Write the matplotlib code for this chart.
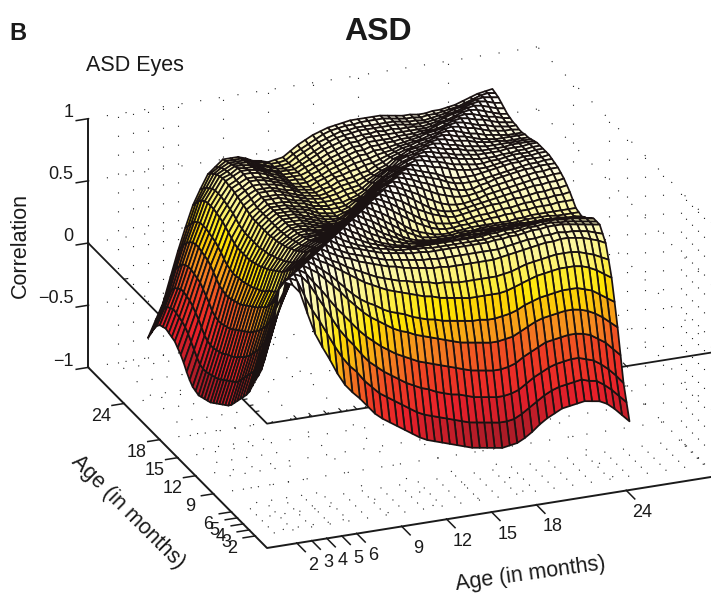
import numpy as np
import matplotlib
matplotlib.use("Agg")
import matplotlib.pyplot as plt
from matplotlib.colors import LinearSegmentedColormap
from mpl_toolkits.mplot3d import proj3d

plt.rcParams['font.family'] = ['Liberation Sans', 'DejaVu Sans']

# ages on the surface grid, half month steps like the mesh in the picture
ages = [2 + 0.5 * i for i in range(47)]
tick_ages = [2, 3, 4, 5, 6, 9, 12, 15, 18, 24]
z_ticks = [-1, -0.5, 0, 0.5, 1]
z_labels = ["\u22121", "\u22120.5", "0", "0.5", "1"]

# upper triangle of the correlation matrix in hundredths, one row per mesh line,
# typed in by eye from the edges and mesh of the picture (rough between the edges)
rows = [
    [100, 97, 90, 72, 55, 43, 32, 20, 10, 3, -3, -10, -17, -22, -26, -30, -34, -38, -42, -45, -47, -49, -51, -53, -55, -57, -58, -59, -60, -61, -60, -59, -56, -52, -47, -43, -40, -37, -36, -35, -34, -35, -36, -39, -44, -50, -56],
    [100, 97, 84, 72, 62, 51, 40, 30, 22, 16, 8, 2, -4, -8, -12, -16, -20, -24, -27, -29, -31, -33, -35, -37, -39, -40, -41, -42, -43, -43, -42, -39, -35, -31, -27, -24, -22, -21, -20, -19, -21, -22, -26, -31, -37, -43],
    [100, 97, 90, 80, 70, 60, 50, 42, 35, 27, 20, 15, 10, 6, 2, -2, -5, -8, -10, -13, -15, -17, -18, -20, -22, -23, -24, -25, -25, -24, -22, -18, -14, -11, -8, -6, -5, -4, -4, -6, -8, -12, -17, -23, -30],
    [100, 96, 88, 81, 73, 65, 58, 51, 44, 38, 33, 28, 24, 20, 17, 14, 11, 9, 7, 5, 3, 1, -1, -3, -4, -5, -6, -6, -5, -3, 1, 4, 7, 10, 11, 12, 13, 13, 12, 10, 6, 2, -4, -10],
    [100, 96, 92, 86, 80, 74, 67, 61, 55, 50, 46, 42, 38, 35, 33, 30, 28, 26, 24, 22, 20, 18, 17, 16, 15, 14, 14, 15, 16, 19, 22, 25, 27, 28, 29, 30, 30, 29, 27, 24, 20, 15, 10],
    [100, 96, 91, 86, 80, 74, 68, 63, 59, 56, 52, 49, 47, 45, 42, 40, 38, 37, 35, 34, 33, 32, 31, 31, 30, 30, 31, 32, 34, 37, 39, 41, 42, 43, 44, 44, 44, 42, 40, 36, 32, 28],
    [100, 96, 93, 89, 85, 81, 77, 73, 70, 67, 64, 62, 60, 58, 56, 54, 53, 51, 50, 49, 48, 47, 47, 47, 47, 47, 48, 50, 52, 54, 56, 57, 58, 59, 59, 59, 58, 56, 53, 49, 45],
    [100, 96, 92, 89, 85, 82, 79, 76, 73, 71, 69, 67, 66, 64, 63, 62, 60, 60, 59, 58, 58, 58, 58, 58, 58, 59, 60, 62, 64, 65, 66, 67, 68, 68, 68, 67, 65, 63, 60, 57],
    [100, 96, 93, 90, 88, 85, 83, 81, 79, 77, 76, 74, 73, 72, 71, 70, 70, 69, 69, 69, 69, 69, 69, 69, 70, 71, 72, 73, 74, 75, 76, 76, 77, 77, 76, 75, 73, 71, 68],
    [100, 96, 93, 90, 88, 86, 84, 82, 80, 79, 78, 77, 76, 75, 75, 74, 74, 74, 74, 74, 74, 74, 74, 74, 75, 76, 77, 78, 78, 79, 79, 80, 79, 79, 78, 77, 75, 73],
    [100, 96, 93, 91, 89, 87, 85, 83, 82, 81, 80, 79, 79, 78, 78, 78, 78, 78, 78, 78, 78, 78, 79, 79, 80, 80, 81, 82, 82, 83, 83, 83, 82, 81, 80, 79, 78],
    [100, 96, 93, 90, 88, 86, 84, 83, 81, 80, 80, 79, 79, 78, 78, 78, 78, 78, 78, 78, 78, 79, 79, 80, 80, 81, 82, 82, 83, 83, 82, 82, 81, 80, 79, 78],
    [100, 96, 93, 90, 87, 85, 83, 81, 80, 79, 78, 78, 78, 78, 78, 78, 78, 78, 78, 78, 79, 79, 80, 80, 80, 81, 81, 82, 82, 82, 81, 81, 80, 79, 78],
    [100, 96, 93, 89, 86, 83, 81, 79, 78, 76, 76, 76, 76, 76, 76, 76, 76, 76, 77, 77, 78, 78, 78, 79, 79, 79, 80, 80, 79, 79, 78, 78, 77, 76],
    [100, 96, 93, 89, 86, 83, 80, 78, 76, 75, 74, 74, 74, 74, 75, 75, 75, 75, 75, 76, 76, 76, 77, 77, 77, 77, 77, 77, 76, 76, 75, 74, 73],
    [100, 96, 93, 89, 85, 82, 79, 76, 74, 73, 72, 72, 72, 72, 73, 73, 74, 74, 74, 74, 75, 75, 75, 75, 75, 75, 75, 74, 74, 73, 73, 72],
    [100, 96, 93, 89, 85, 81, 77, 74, 72, 71, 70, 70, 70, 70, 71, 71, 72, 72, 72, 72, 72, 72, 72, 72, 72, 72, 72, 72, 71, 71, 70],
    [100, 96, 93, 89, 85, 81, 77, 74, 71, 70, 69, 69, 69, 70, 70, 70, 71, 71, 71, 71, 71, 71, 72, 72, 72, 72, 71, 71, 71, 71],
    [100, 96, 93, 89, 85, 80, 76, 73, 71, 69, 68, 68, 69, 69, 70, 70, 70, 70, 70, 70, 71, 71, 72, 72, 72, 72, 72, 72, 72],
    [100, 97, 94, 90, 86, 82, 78, 75, 72, 70, 69, 69, 70, 70, 71, 71, 72, 72, 73, 73, 74, 74, 75, 75, 75, 76, 76, 76],
    [100, 97, 94, 90, 86, 82, 78, 75, 72, 71, 70, 70, 71, 72, 73, 73, 74, 75, 75, 76, 77, 77, 78, 78, 79, 79, 80],
    [100, 97, 94, 91, 87, 83, 80, 77, 75, 73, 72, 73, 74, 75, 76, 77, 77, 78, 79, 79, 80, 81, 81, 82, 82, 83],
    [100, 97, 95, 92, 88, 84, 80, 77, 75, 74, 74, 75, 76, 77, 78, 79, 80, 81, 82, 83, 84, 84, 85, 85, 86],
    [100, 98, 95, 92, 89, 85, 82, 79, 77, 76, 76, 77, 78, 80, 81, 82, 83, 84, 85, 86, 87, 87, 88, 88],
    [100, 98, 95, 93, 90, 87, 84, 82, 80, 79, 79, 80, 81, 83, 84, 85, 86, 87, 88, 89, 89, 90, 90],
    [100, 98, 96, 93, 91, 88, 86, 84, 82, 81, 81, 83, 84, 86, 87, 88, 89, 90, 90, 91, 91, 91],
    [100, 98, 96, 94, 92, 90, 87, 85, 84, 84, 84, 85, 86, 87, 88, 89, 90, 91, 91, 92, 92],
    [100, 98, 96, 94, 92, 89, 87, 86, 86, 86, 87, 88, 89, 90, 91, 91, 92, 92, 92, 93],
    [100, 98, 97, 95, 94, 92, 90, 89, 88, 88, 88, 89, 90, 91, 91, 92, 92, 93, 93],
    [100, 99, 97, 96, 94, 92, 91, 90, 89, 89, 90, 90, 91, 92, 92, 92, 93, 93],
    [100, 99, 97, 96, 95, 93, 92, 91, 90, 90, 90, 91, 91, 92, 92, 93, 93],
    [100, 99, 97, 96, 94, 93, 92, 91, 91, 91, 91, 92, 92, 92, 93, 93],
    [100, 99, 97, 96, 95, 93, 92, 91, 91, 91, 91, 92, 92, 92, 92],
    [100, 99, 97, 96, 94, 93, 92, 91, 91, 91, 91, 91, 91, 91],
    [100, 99, 97, 96, 95, 93, 92, 91, 91, 90, 90, 90, 90],
    [100, 99, 97, 96, 94, 92, 91, 90, 90, 90, 90, 90],
    [100, 99, 97, 95, 94, 92, 91, 90, 89, 89, 89],
    [100, 99, 97, 96, 94, 92, 91, 90, 90, 89],
    [100, 99, 97, 95, 94, 92, 91, 90, 90],
    [100, 99, 97, 96, 94, 92, 91, 90],
    [100, 99, 97, 95, 94, 92, 91],
    [100, 99, 97, 95, 93, 92],
    [100, 99, 97, 95, 94],
    [100, 99, 97, 96],
    [100, 99, 98],
    [100, 99],
    [100],
]

n = len(ages)
Z = np.zeros((n, n))
for i, row in enumerate(rows):
    Z[i, i:] = row
    Z[i:, i] = row
Z = Z / 100.0
X, Y = np.meshgrid(ages, ages)

cmap = LinearSegmentedColormap.from_list("asd", [
    (0.00, "#300000"), (0.20, "#b01c28"), (0.33, "#e8202a"), (0.45, "#ee3c24"),
    (0.55, "#f58a20"), (0.68, "#ffe600"), (0.82, "#fbf590"), (1.00, "#ffffff")])

fig = plt.figure(figsize=(7.11, 5.97), dpi=100)
ax = fig.add_axes([0, 0, 1000 / 711, 1000 / 597], projection='3d', proj_type='ortho')
ax.set_axis_off()
ax.computed_zorder = False
ax.patch.set_alpha(0)
ax.set_xlim(0, 30)
ax.set_ylim(0, 30)
ax.set_zlim(-1, 1)
ax.view_init(elev=23.7, azim=-111.7)
aspect = (486, 486, 273)


def to_px(x, y, z):
    xp, yp, _ = proj3d.proj_transform(x, y, z, ax.get_proj())
    return ax.transData.transform((xp, yp))


# scale and place the box so the front corner lands where it is in the picture
ax.set_box_aspect(aspect, zoom=1)
ax.apply_aspect()
d = np.hypot(*(to_px(30, 0, -1) - to_px(0, 0, -1)))
ax.set_box_aspect(aspect, zoom=455.0 / d)
p = to_px(0, 0, -1)
ax.set_position([(267 - p[0]) / 711, (597 - 548 - p[1]) / 597, 1000 / 711, 1000 / 597])

ink = "#1a1a1a"
dot = dict(color=ink, lw=0.8, linestyle=(0, (1, 16)), zorder=1)

# dotted grid: floor and the two back walls
for t in tick_ages:
    ax.plot([t, t], [0, 30], [-1, -1], **dot)
    ax.plot([0, 30], [t, t], [-1, -1], **dot)
    ax.plot([t, t], [30, 30], [-1, 1], **dot)
    ax.plot([30, 30], [t, t], [-1, 1], **dot)
for z in z_ticks:
    ax.plot([0, 30], [30, 30], [z, z], **dot)
    ax.plot([30, 30], [0, 30], [z, z], **dot)

# solid lines at z = 0, they pass behind the surface
ax.plot([0, 0, 30], [30, 0, 0], [0, 0, 0], color=ink, lw=1.3, zorder=1)
for t in tick_ages:
    ax.plot([t, t], [0, 0.5], [0, 0], color=ink, lw=0.8, zorder=1)
    ax.plot([0, 0.25], [t, t], [0, 0], color=ink, lw=0.8, zorder=1)

ax.plot_surface(X, Y, Z, rstride=1, cstride=1, facecolors=cmap((Z + 1) / 2), shade=False,
                edgecolor="#1a1212", linewidth=1.25, antialiased=True, zorder=2)

# box edges with ticks
axis_kw = dict(color=ink, lw=1.4, zorder=3)
ax.plot([0, 0, 30], [30, 0, 0], [-1, -1, -1], **axis_kw)
ax.plot([0, 0], [30, 30], [-1, 1], **axis_kw)
for t in tick_ages:
    ax.plot([t, t], [0, -1.4], [-1, -1], color=ink, lw=1.1, zorder=3)
    ax.plot([0, -0.8], [t, t], [-1, -1], color=ink, lw=1.1, zorder=3)
    ax.text(t - 0.33, -3.53, -1, str(t), fontsize=13, ha='center', va='center', color=ink)
    ax.text(-2.06, t - 1.34, -1, str(t), fontsize=13, ha='center', va='center', color=ink)
for z, lab in zip(z_ticks, z_labels):
    ax.plot([0, -0.8], [30, 30], [z, z], color=ink, lw=1.1, zorder=3)
    ax.text(-1.0, 30, z + 0.07, lab, fontsize=13, ha='right', va='center', color=ink)


def put(x, y, s, **kw):
    fig.text(x / 711, 1 - y / 597, s, color=ink, ha='center', va='center', **kw)


put(18, 33, "B", fontsize=17, fontweight='bold')
put(378, 32, "ASD", fontsize=23, fontweight='bold')
put(135, 65, "ASD Eyes", fontsize=15.5)
put(20, 245, "Correlation", fontsize=15.5, rotation=90)
put(128, 512, "Age (in months)", fontsize=15.5, rotation=-45)
put(530, 574, "Age (in months)", fontsize=15.5, rotation=8)

fig.savefig("out.png", dpi=100)
